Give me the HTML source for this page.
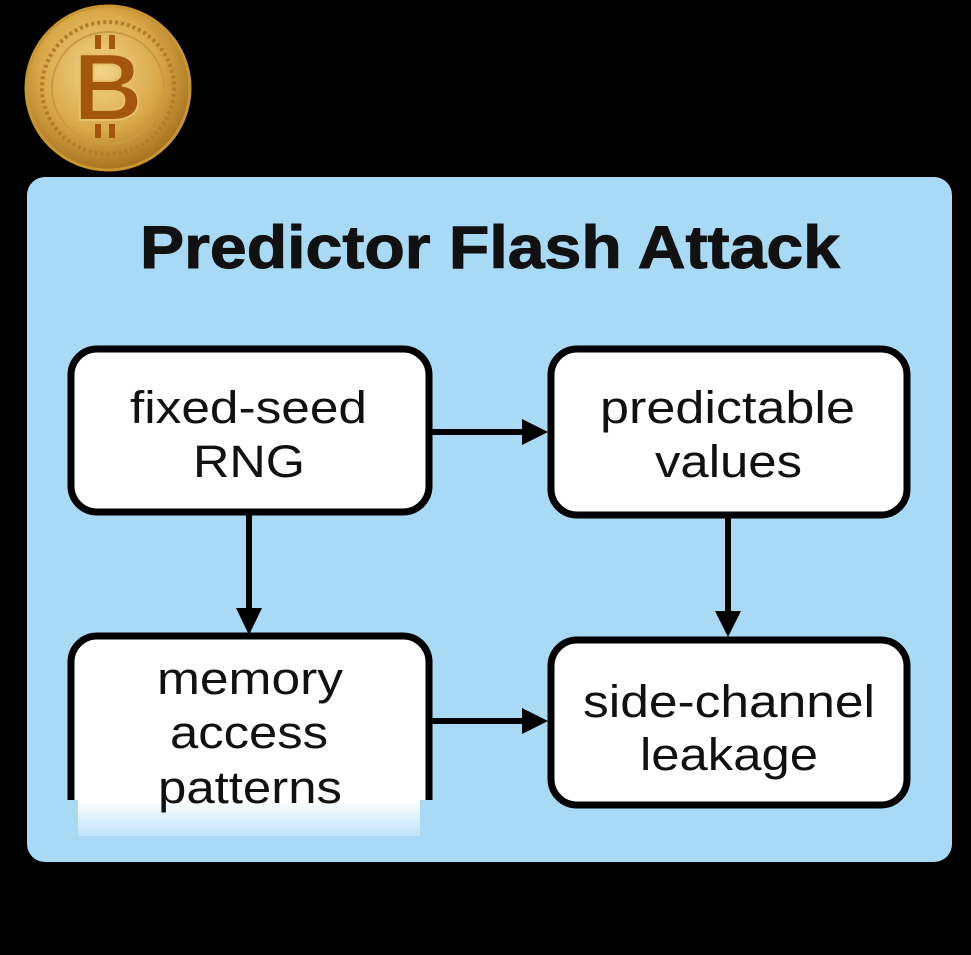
<!DOCTYPE html>
<html><head><meta charset="utf-8"><style>
html,body{margin:0;padding:0;background:#000;}
svg{display:block}
</style></head><body>
<svg width="971" height="955" viewBox="0 0 971 955" xmlns="http://www.w3.org/2000/svg" font-family="Liberation Sans, sans-serif">
<defs>
<radialGradient id="coin" cx="45%" cy="40%" r="60%">
<stop offset="0" stop-color="#f3d58a"/><stop offset="0.6" stop-color="#d9a94a"/><stop offset="1" stop-color="#a8731f"/>
</radialGradient>
<linearGradient id="fade" x1="0" y1="0" x2="0" y2="1">
<stop offset="0" stop-color="#ffffff"/><stop offset="1" stop-color="#bfe3f8"/>
</linearGradient>
</defs>
<rect width="971" height="955" fill="#000"/>
<circle cx="108" cy="88" r="82" fill="url(#coin)" stroke="#c8952f" stroke-width="3"/>
<circle cx="108" cy="88" r="66" fill="none" stroke="#b07d2a" stroke-width="4" stroke-dasharray="3 3"/>
<circle cx="108" cy="88" r="56" fill="none" stroke="#c99a44" stroke-width="2"/>
<text x="108" y="120" text-anchor="middle" font-size="96" font-weight="bold" fill="#a4560f" stroke="#e8c06a" stroke-width="2">B</text>
<rect x="95" y="35" width="6" height="14" fill="#a4560f"/><rect x="109" y="35" width="6" height="14" fill="#a4560f"/>
<rect x="95" y="124" width="6" height="14" fill="#a4560f"/><rect x="109" y="124" width="6" height="14" fill="#a4560f"/>
<rect x="27" y="177" width="925" height="685" rx="18" fill="#a9daf5"/>
<text x="490" y="268" text-anchor="middle" font-size="60" font-weight="bold" fill="#111" stroke="#111" stroke-width="1" textLength="700" lengthAdjust="spacingAndGlyphs">Predictor Flash Attack</text>
<g stroke="#000" stroke-width="6" fill="none">
<line x1="432" y1="432" x2="525" y2="432"/>
<line x1="249" y1="515" x2="249" y2="612"/>
<line x1="728" y1="518" x2="728" y2="615"/>
<line x1="432" y1="721" x2="525" y2="721"/>
</g>
<g fill="#000">
<polygon points="522,419 548,432 522,445"/>
<polygon points="236,608 249,635 262,608"/>
<polygon points="715,611 728,637 741,611"/>
<polygon points="522,708 548,721 522,734"/>
</g>
<g fill="#fff" stroke="#000" stroke-width="7">
<rect x="71" y="349" width="358" height="163" rx="26"/>
<rect x="551" y="349" width="356" height="166" rx="26"/>
<rect x="551" y="640" width="356" height="165" rx="26"/>
<path d="M71,800 V662 a26,26 0 0 1 26,-26 H403 a26,26 0 0 1 26,26 V800"/>
</g>
<rect x="78" y="800" width="342" height="36" fill="url(#fade)"/>
<g font-size="45" fill="#111" lengthAdjust="spacingAndGlyphs">
<text x="130" y="423" textLength="237" lengthAdjust="spacingAndGlyphs">fixed-seed</text>
<text x="193" y="477" textLength="112" lengthAdjust="spacingAndGlyphs">RNG</text>
<text x="600" y="423" textLength="255" lengthAdjust="spacingAndGlyphs">predictable</text>
<text x="655" y="477" textLength="147" lengthAdjust="spacingAndGlyphs">values</text>
<text x="157" y="694" textLength="186" lengthAdjust="spacingAndGlyphs">memory</text>
<text x="170" y="748" textLength="158" lengthAdjust="spacingAndGlyphs">access</text>
<text x="158" y="803" textLength="184" lengthAdjust="spacingAndGlyphs">patterns</text>
<text x="583" y="717" textLength="292" lengthAdjust="spacingAndGlyphs">side-channel</text>
<text x="640" y="770" textLength="178" lengthAdjust="spacingAndGlyphs">leakage</text>
</g>
</svg>
</body></html>
